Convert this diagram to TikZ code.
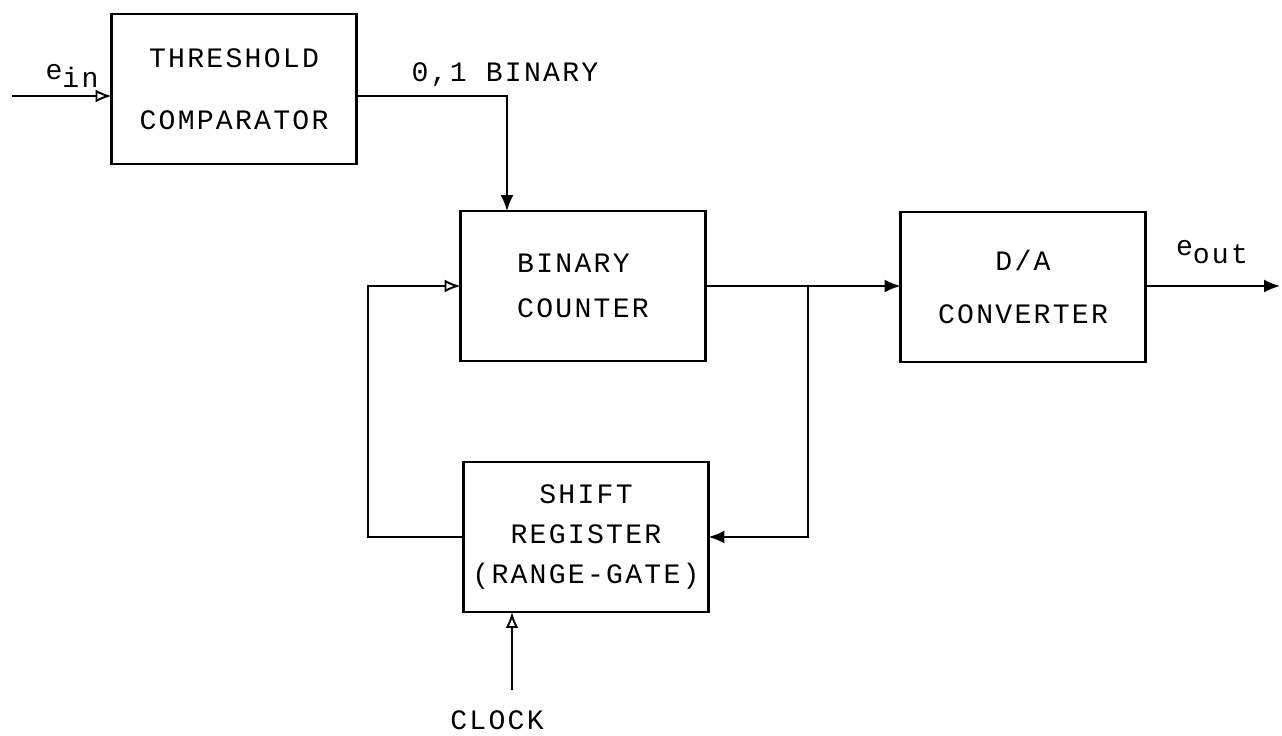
\documentclass[tikz,border=0pt]{standalone}
\usepackage{fontspec}
\newfontfamily\typew[LetterSpace=8]{Liberation Mono}
\usetikzlibrary{arrows.meta,positioning}
\tikzset{
  blockbox/.style={draw, line width=1.3pt, minimum width=4.9cm, minimum height=3cm,
    inner sep=0pt, outer sep=0pt, align=center, font=\typew\fontsize{16}{#1}\selectfont},
  sig/.style={line width=1.1pt},
  solidtip/.style={sig, -{Latex[length=3.2mm,width=2.6mm]}},
  opentip/.style={sig, -{Latex[open,length=3.2mm,width=2.6mm]}},
  lbl/.style={font=\typew\fontsize{16}{16}\selectfont, inner sep=1pt}
}

\begin{document}
\begin{tikzpicture}[x=0.02cm, y=-0.02cm]
\useasboundingbox (0,0) rectangle (1282,735);

% blocks
\node[blockbox=35pt] (thr) at (234,89) {THRESHOLD\\COMPARATOR};
\node[blockbox=25.6pt, align=left] (cnt) at (583,286) {BINARY\\COUNTER};
\node[blockbox=30pt] (dac) at (1023,287) {D/A\\CONVERTER};
\node[blockbox=23pt] (shr) at (586,537) {SHIFT\\REGISTER\\(RANGE-GATE)};

% free ends and corners
\coordinate (inL) at (12,96);
\coordinate (tap) at (507,96);
\coordinate (jn) at (808,286);
\coordinate (fbL) at (368,537);
\coordinate (outR) at (1280,286);
\coordinate (clk) at (512,690);

% labels
\node[lbl] (einlbl) at (72,76) {e\raisebox{-0.55ex}{in}};
\node[lbl] (binlbl) at (505,75) {0,1 BINARY};
\node[lbl] (eoutlbl) at (1212,252) {e\raisebox{-0.55ex}{out}};
\node[lbl] (clklbl) at (497,720) {CLOCK};

% signal paths
\draw[opentip] (inL) -- (inL -| thr.west);
\draw[solidtip] (thr.east |- tap) -- (tap) -- (tap |- cnt.north);
\draw[solidtip] (cnt.east) -- (cnt.east -| dac.west);
\draw[solidtip] (jn) |- (shr.east);
\draw[opentip] (shr.west) -- (fbL) |- (cnt.west);
\draw[solidtip] (dac.east |- outR) -- (outR);
\draw[opentip] (clk) -- (clk |- shr.south);
\end{tikzpicture}
\end{document}
